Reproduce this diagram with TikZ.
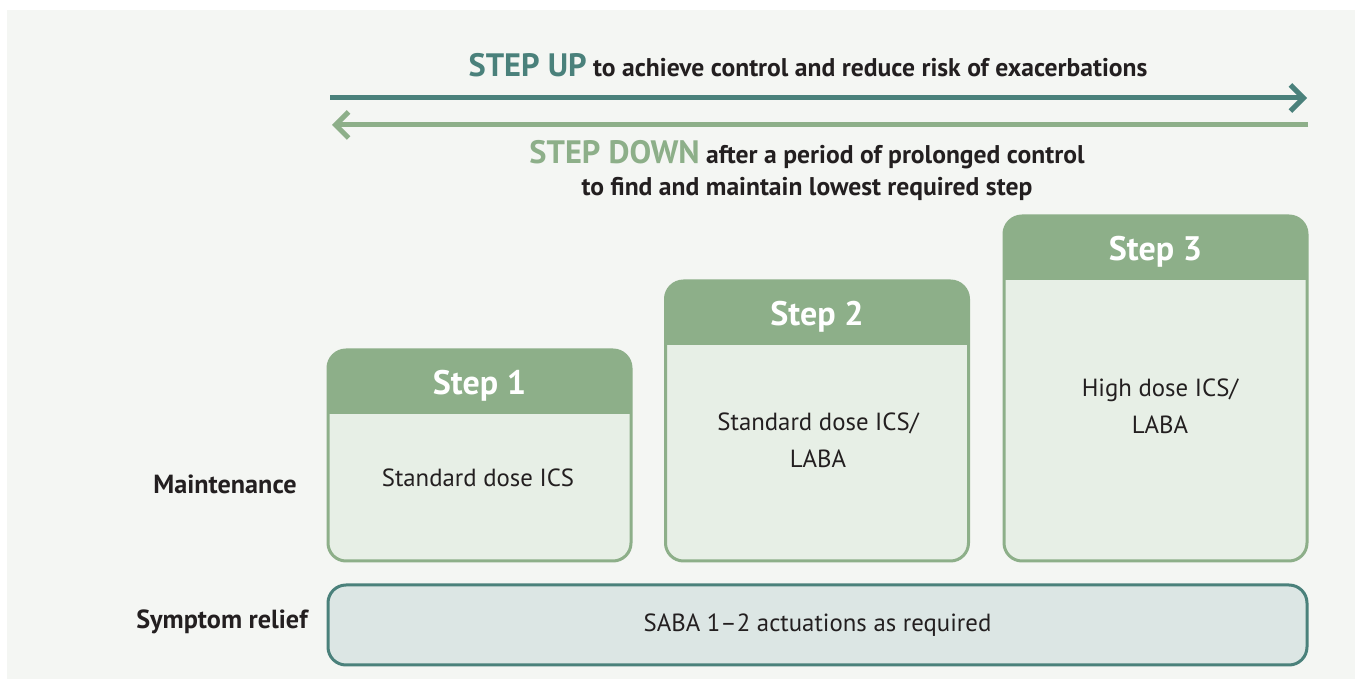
\documentclass[tikz,border=0pt]{standalone}
\usepackage{fontspec}
\setmainfont{PT Sans}
\usetikzlibrary{arrows.meta}
\definecolor{stepteal}{HTML}{4A817B}
\definecolor{stepgreen}{HTML}{8DAF89}
\definecolor{pagebg}{HTML}{F4F6F3}
\definecolor{boxfill}{HTML}{E7EFE6}
\definecolor{relieffill}{HTML}{DCE6E4}
\definecolor{inkdark}{HTML}{231F20}
\newcommand{\bigwordfont}{\fontsize{16.2}{18}\selectfont}
\begin{document}
\begin{tikzpicture}[x=0.5pt,y=-0.5pt]

% sizes of the step boxes
\def\bw{151.5pt}
\def\hd{32pt}
% style definitions
\tikzstyle{stepbox} = [
	draw=stepgreen, fill=boxfill, line width=1.5pt, rounded corners=9pt,
	outer sep=0pt, minimum width=\bw ];
\tikzstyle{steplabel} = [text=white, font=\fontsize{17}{20}\selectfont\bfseries];
\tikzstyle{dose} = [text=inkdark, align=center, font=\fontsize{12.4}{18.5}\selectfont];
\tikzstyle{rowlabel} = [text=inkdark, font=\fontsize{13.1}{15}\selectfont\bfseries];
\tikzstyle{headline} = [text=inkdark, align=center, font=\fontsize{12.8}{16}\selectfont\bfseries];

\useasboundingbox (0,0) rectangle (1357,679);
\fill[pagebg] (7,10) rectangle (1355,679);

% step up / step down
\coordinate (upL) at (330,98);
\coordinate (upR) at (1307,98);
\coordinate (dnR) at (1308,125);
\coordinate (dnL) at (332,125);
\draw[stepteal, line width=2.5pt, -{Straight Barb[length=6.5pt,width=13pt]}] (upL) -- (upR);
\draw[stepgreen, line width=2.5pt, -{Straight Barb[length=6.5pt,width=13pt]}] (dnR) -- (dnL);

\node[headline] (tup) at (808,65) {\textcolor{stepteal}{\bigwordfont STEP UP} to achieve control and reduce risk of exacerbations};
\node[headline] (tdn) at (807,170) {\textcolor{stepgreen}{\bigwordfont STEP DOWN} after a period of prolonged control\\to find and maintain lowest required step};

% the three steps
\node[stepbox, minimum height=105.5pt] (s1) at (479.5,455.5) {};
\node[stepbox, minimum height=140pt] (s2) at (817,421) {};
\node[stepbox, minimum height=172.5pt] (s3) at (1155.5,388.5) {};

\foreach \s in {s1,s2,s3} {
	\fill[stepgreen, rounded corners=9pt] (\s.north west) rectangle ([yshift=-\hd]\s.north east);
	\fill[stepgreen] ([yshift=-16pt]\s.north west) rectangle ([yshift=-\hd]\s.north east);
}

\node[steplabel] (h1) at ([yshift=-18pt]s1.north) {Step 1};
\node[steplabel] (h2) at ([yshift=-18pt]s2.north) {Step 2};
\node[steplabel] (h3) at ([yshift=-18pt]s3.north) {Step 3};

\node[dose] (d1) at (478,478) {Standard dose ICS};
\node[dose] (d2) at (818,440) {Standard dose ICS/\\LABA};
\node[dose] (d3) at (1160,406) {High dose ICS/\\LABA};

% reliever row
\node[draw=stepteal, fill=relieffill, line width=1.5pt, rounded corners=9pt,
	minimum width=489.5pt, minimum height=40pt, dose] (sr) at (817.5,625) {SABA 1--2 actuations as required};

\node[rowlabel] (lm) at (225,484) {Maintenance};
\node[rowlabel] (lr) at (222,622) {Symptom relief};

\end{tikzpicture}
\end{document}
